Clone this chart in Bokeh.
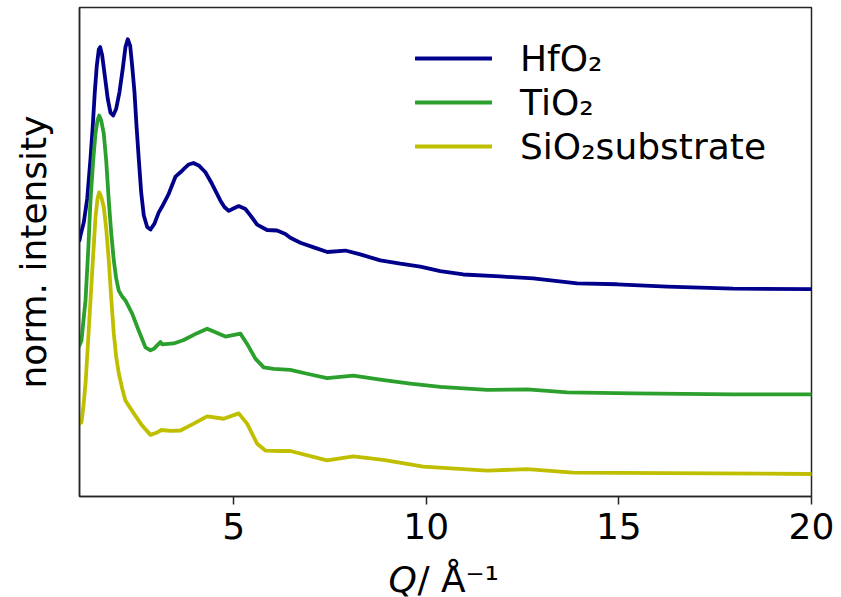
from bokeh.plotting import figure
from bokeh.layouts import column
from bokeh.models import Range1d, FixedTicker, Legend, LegendItem
from bokeh.core.properties import value
from bokeh.embed import file_html
from bokeh.resources import INLINE

# Scattering vector Q (1/Å) and normalised, vertically offset intensities
hfo2_q = [1.000, 1.026, 1.112, 1.200, 1.285, 1.345, 1.397, 1.449, 1.501, 1.537,
          1.589, 1.656, 1.734, 1.804, 1.874, 1.952, 2.038, 2.123, 2.193, 2.253,
          2.315, 2.367, 2.427, 2.479, 2.538, 2.601, 2.668, 2.756, 2.842, 2.946,
          3.057, 3.145, 3.316, 3.490, 3.620, 3.724, 3.835, 3.957, 4.095, 4.268,
          4.442, 4.658, 4.761, 4.873, 4.995, 5.132, 5.306, 5.436, 5.610, 5.869,
          6.128, 6.344, 6.473, 6.733, 7.100, 7.433, 7.900, 8.289, 8.808, 9.327,
          9.846, 10.364, 10.961, 11.921, 12.777, 13.918, 14.956, 16.253, 17.965,
          20.000]
hfo2_i = [0.524, 0.534, 0.561, 0.609, 0.691, 0.759, 0.827, 0.881, 0.914, 0.919,
          0.902, 0.861, 0.813, 0.785, 0.779, 0.793, 0.827, 0.875, 0.919, 0.935,
          0.922, 0.881, 0.827, 0.759, 0.691, 0.622, 0.575, 0.551, 0.546, 0.558,
          0.581, 0.593, 0.619, 0.654, 0.663, 0.671, 0.679, 0.682, 0.677, 0.663,
          0.639, 0.605, 0.592, 0.584, 0.589, 0.594, 0.588, 0.575, 0.556, 0.545,
          0.544, 0.537, 0.529, 0.519, 0.509, 0.500, 0.503, 0.495, 0.483, 0.476,
          0.470, 0.461, 0.454, 0.450, 0.446, 0.436, 0.434, 0.429, 0.425,
          0.424]

tio2_q = [1.000, 1.052, 1.112, 1.156, 1.226, 1.285, 1.355, 1.415, 1.467, 1.511,
          1.563, 1.630, 1.693, 1.760, 1.822, 1.890, 1.952, 2.019, 2.108, 2.193,
          2.367, 2.538, 2.712, 2.842, 2.930, 3.016, 3.101, 3.145, 3.446, 3.706,
          4.053, 4.313, 4.528, 4.787, 5.176, 5.350, 5.565, 5.781, 6.040, 6.473,
          6.907, 7.425, 8.108, 8.808, 9.586, 10.364, 11.584, 12.621, 13.659,
          15.371, 17.965, 20.000]
tio2_i = [0.309, 0.319, 0.367, 0.401, 0.503, 0.605, 0.687, 0.742, 0.769, 0.779,
          0.769, 0.742, 0.687, 0.605, 0.540, 0.483, 0.446, 0.421, 0.409, 0.401,
          0.374, 0.339, 0.305, 0.299, 0.302, 0.309, 0.316, 0.311, 0.313, 0.320,
          0.334, 0.343, 0.336, 0.327, 0.333, 0.312, 0.282, 0.264, 0.261, 0.259,
          0.251, 0.242, 0.247, 0.239, 0.231, 0.224, 0.218, 0.219, 0.213,
          0.211, 0.209, 0.209]

sio2_q = [1.000, 1.052, 1.104, 1.156, 1.220, 1.285, 1.350, 1.415, 1.467, 1.511,
          1.563, 1.630, 1.693, 1.760, 1.822, 1.890, 1.952, 2.019, 2.108, 2.193,
          2.409, 2.626, 2.842, 3.016, 3.127, 3.361, 3.620, 3.965, 4.313, 4.743,
          5.132, 5.350, 5.610, 5.825, 6.214, 6.473, 7.425, 8.108, 8.886, 9.923,
          11.584, 12.621, 13.815, 16.253, 20.000]
sio2_i = [0.149, 0.152, 0.186, 0.231, 0.313, 0.401, 0.487, 0.571, 0.609, 0.622,
          0.613, 0.592, 0.548, 0.483, 0.407, 0.333, 0.286, 0.252, 0.221, 0.196,
          0.170, 0.145, 0.126, 0.131, 0.136, 0.134, 0.135, 0.149, 0.164, 0.159,
          0.170, 0.149, 0.108, 0.094, 0.093, 0.093, 0.074, 0.082, 0.075, 0.061,
          0.053, 0.056, 0.049, 0.048, 0.046]

x_ticks = [5, 10, 15, 20]
series_names = ["HfO\u2082", "TiO\u2082", "SiO\u2082substrate"]
series_colors = ["#00008b", "#2ca02c", "#bfbf00"]
x_title_parts = ["Q", "/ \u00c5\u207b\u00b9"]

FONT = "DejaVu Sans"
FS = "36px"
EDGE = "#262626"

p = figure(width=841, height=556, output_backend="svg", toolbar_location=None,
           x_range=Range1d(1, 20), y_range=Range1d(0, 1),
           min_border_left=79, min_border_right=30,
           min_border_top=7, min_border_bottom=60)
p.background_fill_color = "white"
p.border_fill_color = "white"
p.outline_line_color = EDGE
p.outline_line_width = 1.5
p.xgrid.visible = False
p.ygrid.visible = False

# x axis: outward ticks only at 5, 10, 15, 20
xa = p.xaxis[0]
xa.ticker = FixedTicker(ticks=x_ticks)
xa.major_tick_in = 0
xa.major_tick_out = 8
xa.minor_tick_line_color = None
xa.axis_line_color = EDGE
xa.axis_line_width = 1.5
xa.major_tick_line_color = EDGE
xa.major_tick_line_width = 1.5
xa.major_label_text_font = FONT
xa.major_label_text_font_size = FS
xa.major_label_text_color = "black"
xa.major_label_standoff = 8

# y axis: label only
ya = p.yaxis[0]
ya.ticker = FixedTicker(ticks=[])
ya.major_tick_in = 0
ya.major_tick_out = 0
ya.minor_tick_line_color = None
ya.major_label_standoff = 0
ya.axis_line_color = EDGE
ya.axis_line_width = 1.5
ya.axis_label = "norm. intensity"
ya.axis_label_text_font = FONT
ya.axis_label_text_font_size = FS
ya.axis_label_text_font_style = "normal"
ya.axis_label_text_color = "black"
ya.axis_label_standoff = 26

renderers = []
for q, inten, col in zip([hfo2_q, tio2_q, sio2_q], [hfo2_i, tio2_i, sio2_i], series_colors):
    renderers.append(p.line(q, inten, line_color=col, line_width=3.8,
                            line_join="round", line_cap="round"))

legend = Legend(items=[LegendItem(label=n, renderers=[r]) for n, r in zip(series_names, renderers)],
                location=(336, 329), orientation="vertical",
                background_fill_alpha=0, border_line_color=None,
                padding=0, margin=0, spacing=2,
                glyph_width=77, glyph_height=42, label_height=42,
                label_standoff=28,
                label_text_font=FONT, label_text_font_size=FS,
                label_text_color="black")
p.add_layout(legend, "center")

# strip under the plot carrying the x-axis title (italic Q, upright unit)
t = figure(width=841, height=41, output_backend="svg", toolbar_location=None,
           x_range=p.x_range, y_range=Range1d(0, 1),
           min_border_left=79, min_border_right=30, min_border_top=0, min_border_bottom=0)
t.axis.visible = False
t.grid.visible = False
t.outline_line_color = None
t.background_fill_color = "white"
t.border_fill_color = "white"
t.text(x=[9.02], y=[0.45], text=[x_title_parts[0]], text_font=value(FONT),
       text_font_size=FS, text_font_style="italic", text_align="left",
       text_baseline="alphabetic", text_color="black")
t.text(x=[9.77], y=[0.45], text=[x_title_parts[1]], text_font=value(FONT),
       text_font_size=FS, text_align="left",
       text_baseline="alphabetic", text_color="black")

layout = column(p, t, spacing=0)
open("out.html", "w").write(file_html(layout, INLINE))
